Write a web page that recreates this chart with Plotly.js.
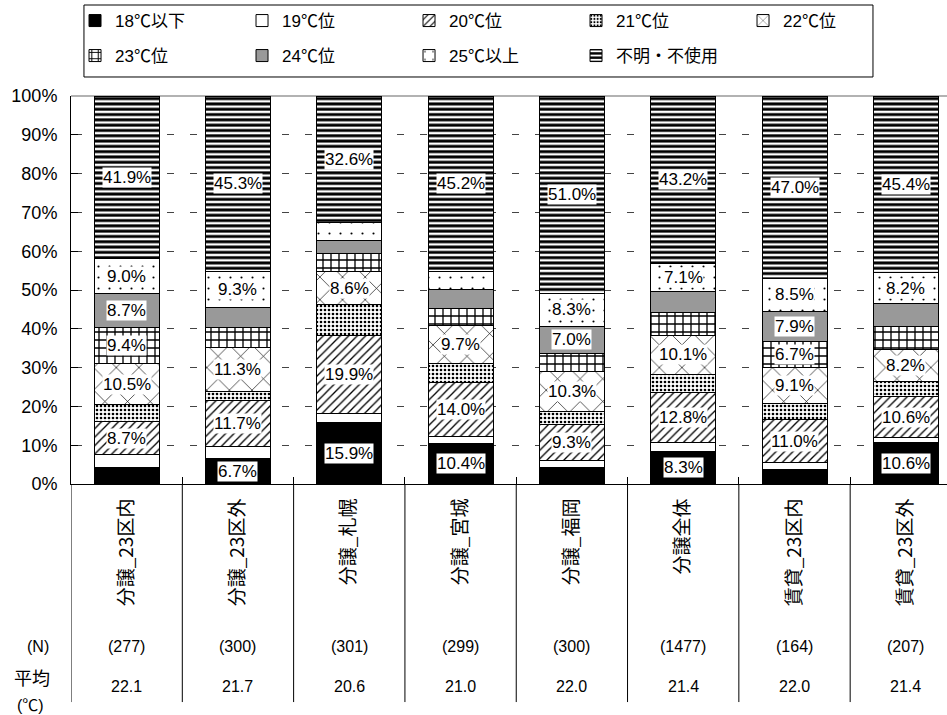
<!DOCTYPE html>
<html><head><meta charset="utf-8">
<script src="https://cdn.plot.ly/plotly-3.0.1.min.js"></script>
<style>html,body{margin:0;padding:0;background:#fff;overflow:hidden}</style>
</head><body><div id="chart" style="width:947px;height:715px"></div>
<script>
const categories = ['分譲_23区内','分譲_23区外','分譲_札幌','分譲_宮城','分譲_福岡','分譲全体','賃貸_23区内','賃貸_23区外'];
const seriesNames = ['18℃以下','19℃位','20℃位','21℃位','22℃位','23℃位','24℃位','25℃以上','不明・不使用'];
const s18  = [4.3, 6.7, 15.9, 10.4, 4.3, 8.3, 3.8, 10.6];
const s19  = [3.2, 3.0, 2.4, 1.8, 1.7, 2.4, 1.7, 1.3];
const s20  = [8.7, 11.7, 19.9, 14.0, 9.3, 12.8, 11.0, 10.6];
const s21  = [4.3, 2.4, 8.0, 4.9, 3.3, 4.8, 4.3, 4.0];
const s22  = [10.5, 11.3, 8.6, 9.7, 10.3, 10.1, 9.1, 8.2];
const s23  = [9.4, 5.3, 4.7, 4.5, 4.8, 5.7, 6.7, 5.8];
const s24  = [8.7, 5.0, 3.2, 4.9, 7.0, 5.6, 7.9, 5.9];
const s25  = [9.0, 9.3, 4.7, 4.6, 8.3, 7.1, 8.5, 8.2];
const sUnk = [41.9, 45.3, 32.6, 45.2, 51.0, 43.2, 47.0, 45.4];
const nValues = [277, 300, 301, 299, 300, 1477, 164, 207];
const meanValues = ['22.1','21.7','20.6','21.0','22.0','21.4','22.0','21.4'];
const labelMin = 6.5;
const hiddenLabels = [[2, 3]]; // [category index, series index]

const allSeries = [s18, s19, s20, s21, s22, s23, s24, s25, sUnk];
const styles = [
  {color:'#000000'},
  {color:'#ffffff'},
  {color:'#ffffff', pattern:{shape:'/', size:6, solidity:0.22, fgcolor:'#000', bgcolor:'#fff'}},
  {color:'#ffffff', pattern:{shape:'.', size:4, solidity:0.35, fgcolor:'#000', bgcolor:'#fff'}},
  {color:'#ffffff', pattern:{shape:'x', size:16, solidity:0.08, fgcolor:'#000', bgcolor:'#fff'}},
  {color:'#ffffff', pattern:{shape:'+', size:8, solidity:0.3, fgcolor:'#000', bgcolor:'#fff'}},
  {color:'#999999'},
  {color:'#ffffff', pattern:{shape:'.', size:11, solidity:0.03, fgcolor:'#000', bgcolor:'#fff'}},
  {color:'#ffffff', pattern:{shape:'-', size:5.3, solidity:0.55, fgcolor:'#000', bgcolor:'#fff'}}
];

const traces = allSeries.map((vals, k) => ({
  type:'bar', name: seriesNames[k], x: categories, y: vals,
  legend: k < 5 ? 'legend' : 'legend2',
  marker: Object.assign({line:{color:'#000', width:1}}, styles[k]),
  hoverinfo:'skip'
}));

const numFont = {family:'Liberation Sans, Arial, sans-serif', size:16, color:'#000'};
const annotations = [];
categories.forEach((c, i) => {
  const total = allSeries.reduce((a, s) => a + s[i], 0);
  let cum = 0;
  allSeries.forEach((s, k) => {
    const v = s[i];
    const mid = (cum + v / 2) / total * 100;
    cum += v;
    const hidden = hiddenLabels.some(h => h[0] === i && h[1] === k);
    if (v >= labelMin && !hidden) {
      annotations.push({x: c, y: mid, xref:'x', yref:'y', text: v.toFixed(1) + '%',
        showarrow:false, bgcolor:'#fff', borderpad:0, xanchor:'center', yanchor:'middle',
        font:{family:'Liberation Sans, Arial, sans-serif', size:17, color:'#000'}});
    }
  });
  annotations.push({x: c, y: -0.42, xref:'x', yref:'paper', text:'(' + nValues[i] + ')', showarrow:false,
    xanchor:'center', yanchor:'middle', font:numFont});
  annotations.push({x: c, y: -0.523, xref:'x', yref:'paper', text: meanValues[i], showarrow:false,
    xanchor:'center', yanchor:'middle', font:numFont});
});
const leftFont = {family:'Liberation Sans, Noto Sans CJK JP, sans-serif', size:16, color:'#000'};
annotations.push({x:-0.0377, y:-0.42, xref:'paper', yref:'paper', text:'(N)', showarrow:false,
  xanchor:'center', yanchor:'middle', font:leftFont});
annotations.push({x:-0.0445, y:-0.497, xref:'paper', yref:'paper', text:'平均', showarrow:false,
  xanchor:'center', yanchor:'middle', font:{family:'Noto Sans CJK JP, sans-serif', size:18, color:'#000'}});
annotations.push({x:-0.0468, y:-0.571, xref:'paper', yref:'paper', text:'(℃)', showarrow:false,
  xanchor:'center', yanchor:'middle', font:leftFont});

const shapes = [];
for (let i = 0; i < categories.length; i++) {
  shapes.push({type:'line', xref:'x', yref:'paper', x0: i - 0.5, x1: i - 0.5, y0: 0, y1: -0.562,
    line:{color:'#000', width:1}});
}
shapes.push({type:'line', xref:'paper', yref:'paper', x0:0, x1:1, y0:1, y1:1, line:{color:'#999', width:1.5}, layer:'below'});
shapes.push({type:'rect', xref:'paper', yref:'paper', x0:0.0148, x1:0.9155, y0:1.049, y1:1.2345, line:{color:'#000', width:1}});

const legendFont = {family:'Liberation Sans, Noto Sans CJK JP, sans-serif', size:17, color:'#000'};
const layout = {
  width:947, height:715,
  margin:{l:71, r:0, t:96, b:231},
  paper_bgcolor:'#fff', plot_bgcolor:'#fff',
  barmode:'stack', barnorm:'percent', bargap:0.416,
  xaxis:{type:'category', range:[-0.5, 7.37], showline:true, linecolor:'#000', linewidth:1,
    ticks:'inside', tickson:'boundaries', ticklen:7, tickcolor:'#000', showgrid:false,
    tickangle:-90, ticklabelstandoff:6, automargin:false,
    tickfont:{family:'Noto Sans CJK JP, sans-serif', size:19, color:'#000'}},
  yaxis:{range:[0,100], dtick:10, ticksuffix:'%', showline:true, linecolor:'#000', linewidth:1,
    ticks:'inside', ticklen:7, tickcolor:'#000', ticklabelstandoff:9, automargin:false,
    showgrid:true, gridcolor:'#444', griddash:'0px,3.7px,7.5px,11.8px', gridwidth:1, zeroline:false,
    tickfont:{family:'Liberation Sans, Arial, sans-serif', size:18, color:'#000'}},
  legend:{orientation:'h', x:0.0046, xanchor:'left', y:1.1933, yanchor:'middle',
    entrywidth:122, entrywidthmode:'pixels', font:legendFont, bgcolor:'rgba(0,0,0,0)', borderwidth:0, traceorder:'normal'},
  legend2:{orientation:'h', x:0.0046, xanchor:'left', y:1.1031, yanchor:'middle',
    entrywidth:122, entrywidthmode:'pixels', font:legendFont, bgcolor:'rgba(0,0,0,0)', borderwidth:0, traceorder:'normal'},
  annotations: annotations,
  shapes: shapes,
  showlegend:true
};
Plotly.newPlot('chart', traces, layout, {displayModeBar:false, staticPlot:true});
</script></body></html>
